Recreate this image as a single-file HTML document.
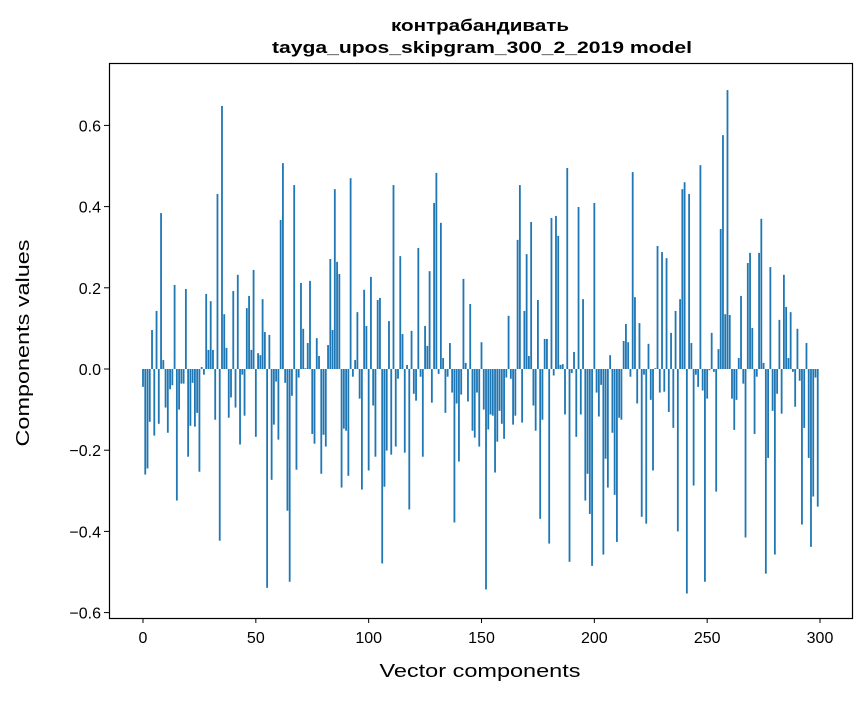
<!DOCTYPE html>
<html><head><meta charset="utf-8"><style>
body{margin:0;background:#fff;}
svg text{font-family:"Liberation Sans","DejaVu Sans",sans-serif;fill:#000;}
</style></head><body>
<svg id="chart" width="867" height="696" xmlns="http://www.w3.org/2000/svg">
<rect width="867" height="696" fill="#fff"/>
<text x="480" y="31" text-anchor="middle" font-size="17" font-weight="bold" textLength="178" lengthAdjust="spacingAndGlyphs">контрабандивать</text>
<text x="482" y="53" text-anchor="middle" font-size="17" font-weight="bold" textLength="420" lengthAdjust="spacingAndGlyphs">tayga_upos_skipgram_300_2_2019 model</text>
<g id="bars"></g>
<g id="axes"></g>
<rect x="109.5" y="63.5" width="743" height="555" fill="none" stroke="#000" stroke-width="1.2"/>
<text x="480" y="677" text-anchor="middle" font-size="18" textLength="201" lengthAdjust="spacingAndGlyphs">Vector components</text>
<text transform="translate(29,343) rotate(-90)" text-anchor="middle" font-size="18" textLength="207" lengthAdjust="spacingAndGlyphs">Components values</text>
</svg>
<script>
const values = [
-0.044,-0.26,-0.245,-0.13,0.096,-0.164,0.143,-0.135,0.384,0.022,
-0.095,-0.157,-0.05,-0.04,0.207,-0.324,-0.1,-0.036,-0.036,0.197,
-0.216,-0.14,-0.034,-0.142,-0.108,-0.253,0.005,-0.014,0.185,0.047,
0.167,0.047,-0.125,0.431,-0.423,0.648,0.135,0.052,-0.12,-0.07,
0.192,-0.095,0.232,-0.186,-0.014,-0.115,0.15,0.18,0.047,0.244,
-0.167,0.039,0.034,0.172,0.091,-0.539,0.084,-0.273,-0.137,-0.031,
-0.174,0.367,0.507,-0.034,-0.349,-0.524,-0.066,0.453,-0.248,-0.021,
0.212,0.099,0.002,0.064,0.217,-0.16,-0.184,0.076,0.032,-0.258,
-0.162,-0.191,0.059,0.271,0.096,0.443,0.264,0.234,-0.292,-0.147,
-0.152,-0.263,0.47,-0.019,0.022,0.14,-0.073,-0.297,0.195,0.106,
-0.25,0.227,-0.09,-0.216,0.17,0.175,-0.479,-0.29,-0.201,0.118,
-0.211,0.453,-0.191,-0.024,0.278,0.086,-0.206,0.01,-0.346,0.094,
-0.061,-0.078,0.298,-0.019,-0.216,0.106,0.057,0.241,-0.083,0.409,
0.483,-0.012,0.36,0.027,-0.108,-0.019,0.064,-0.058,-0.378,-0.085,
-0.228,-0.063,0.222,0.015,-0.08,0.16,-0.152,-0.169,-0.058,-0.191,
0.066,-0.1,-0.543,-0.149,-0.112,-0.115,-0.255,-0.179,-0.103,-0.135,
-0.172,-0.021,0.131,-0.024,-0.137,-0.115,0.318,0.453,-0.132,0.143,
0.283,0.032,0.362,-0.09,-0.152,0.17,-0.369,-0.125,0.074,0.074,
-0.43,0.372,-0.016,0.377,0.328,0.01,0.012,-0.112,0.495,-0.475,
-0.01,0.042,-0.167,0.399,-0.112,0.172,-0.324,-0.258,-0.357,-0.485,
0.409,-0.058,-0.117,-0.039,-0.457,-0.221,-0.292,0.034,-0.157,-0.31,
-0.426,-0.12,-0.125,0.069,0.111,0.066,-0.019,0.485,0.177,-0.085,
0.113,-0.364,-0.014,-0.381,0.062,-0.076,-0.25,0.002,0.303,-0.058,
0.288,-0.056,0.273,-0.106,0.089,-0.145,0.143,-0.4,0.172,0.443,
0.46,-0.553,0.431,0.064,-0.287,-0.014,-0.044,0.502,-0.053,-0.524,
-0.073,-0.003,0.089,-0.007,-0.302,0.049,0.345,0.576,0.135,0.687,
0.133,-0.073,-0.15,-0.076,0.027,0.18,-0.036,-0.415,0.261,0.286,
0.101,-0.16,-0.019,0.286,0.37,0.015,-0.504,-0.219,0.251,-0.103,
-0.457,-0.061,0.121,-0.11,0.232,0.153,0.027,0.14,-0.007,-0.093,
0.099,-0.029,-0.383,-0.145,0.064,-0.219,-0.438,-0.314,-0.021,-0.339
];
const xTicks = [0,50,100,150,200,250,300];
const yTicks = [-0.6,-0.4,-0.2,0.0,0.2,0.4,0.6];
const yTickLabels = ["\u22120.6","\u22120.4","\u22120.2","0.0","0.2","0.4","0.6"];

const NS="http://www.w3.org/2000/svg";
function xScale(v){return 143+v*(677/300);}
function yScale(v){return 369-v*406;}
const bars=document.getElementById('bars');
const bw=0.8*(677/300);
values.forEach((v,i)=>{
  const r=document.createElementNS(NS,'rect');
  const y0=yScale(0), y1=yScale(v);
  r.setAttribute('x',xScale(i)-bw/2);
  r.setAttribute('y',Math.min(y0,y1));
  r.setAttribute('width',bw);
  r.setAttribute('height',Math.max(Math.abs(y1-y0),0.3));
  r.setAttribute('fill','#1f77b4');
  
  
  bars.appendChild(r);
});
const axes=document.getElementById('axes');
xTicks.forEach(t=>{
  const x=xScale(t);
  const l=document.createElementNS(NS,'line');
  l.setAttribute('x1',x);l.setAttribute('x2',x);l.setAttribute('y1',618);l.setAttribute('y2',623);
  l.setAttribute('stroke','#000');
  
  
  axes.appendChild(l);
  const tx=document.createElementNS(NS,'text');
  tx.setAttribute('x',x);tx.setAttribute('y',643);tx.setAttribute('text-anchor','middle');tx.setAttribute('font-size','16');
  tx.textContent=String(t);
  
  
  axes.appendChild(tx);
});
yTicks.forEach((t,i)=>{
  const y=yScale(t);
  const l=document.createElementNS(NS,'line');
  l.setAttribute('x1',104);l.setAttribute('x2',109);l.setAttribute('y1',y);l.setAttribute('y2',y);
  l.setAttribute('stroke','#000');
  
  
  axes.appendChild(l);
  const tx=document.createElementNS(NS,'text');
  tx.setAttribute('x',101);tx.setAttribute('y',y+6);tx.setAttribute('text-anchor','end');tx.setAttribute('font-size','16');
  tx.textContent=yTickLabels[i];
  
  
  axes.appendChild(tx);
});
</script>
</body></html>
